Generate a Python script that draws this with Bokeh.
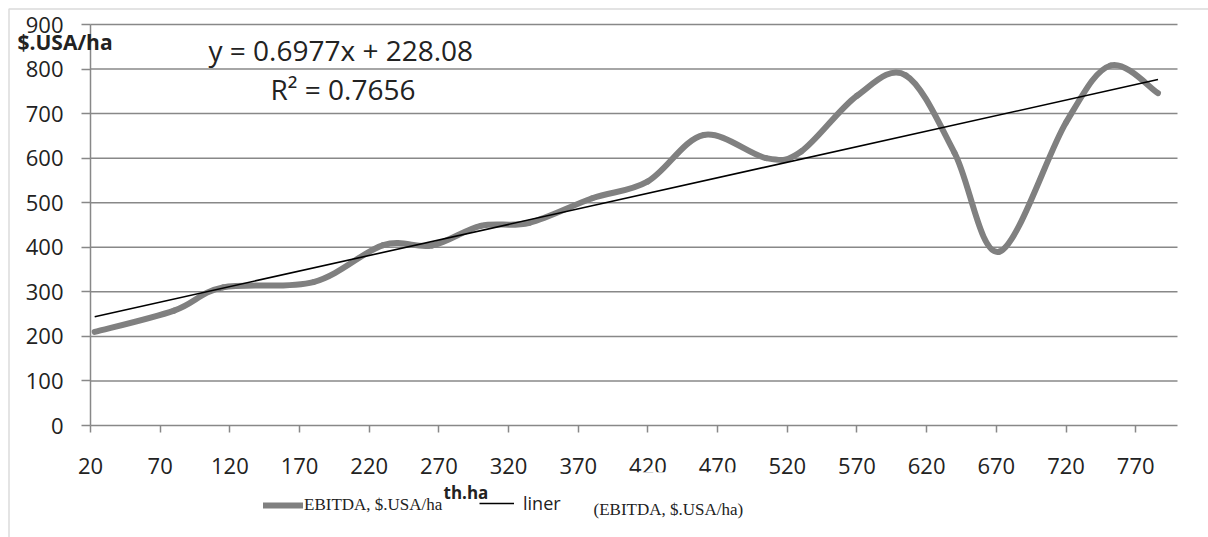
from bokeh.plotting import figure
from bokeh.models import Range1d, FixedTicker, Label, BoxAnnotation, Legend, LegendItem
from bokeh.embed import file_html
from bokeh.resources import INLINE

# Land area, thousand ha, and EBITDA per hectare
land_th_ha = [23, 80, 115, 180, 230, 265, 300, 335, 380, 420, 460, 505, 530,
              570, 605, 640, 672, 720, 752, 786]
ebitda_usd_ha = [210, 258, 310, 322, 405, 404, 448, 455, 510, 548, 652, 600, 615,
                 740, 786, 612, 390, 680, 808, 746]

# Linear trend reported for the series
trend_slope = 0.6977
trend_intercept = 228.08
r_squared = 0.7656

x_ticks = [20, 70, 120, 170, 220, 270, 320, 370, 420, 470, 520, 570, 620, 670, 720, 770]
y_ticks = [0, 100, 200, 300, 400, 500, 600, 700, 800, 900]
x_min, x_max = 20, 800
y_min, y_max = 0, 900

GRID = "#888888"
TEXT = "#222222"
SANS = "Open Sans"
SERIF = "Liberation Serif"

W, H = 1208, 537
# plot area inside the canvas (pixels): left, right, top, bottom
PL, PR, PT, PB = 90, 1177, 24, 425
kx = (PR - PL) / (x_max - x_min)
ky = (PB - PT) / (y_max - y_min)
x_range = Range1d(x_min - PL / kx, x_max + (W - PR) / kx)
y_range = Range1d(y_min - (H - PB) / ky, y_max + PT / ky)

p = figure(width=W, height=H, output_backend="svg", toolbar_location=None,
           x_range=x_range, y_range=y_range, title=None,
           min_border=0, min_border_left=0, min_border_right=0,
           min_border_top=0, min_border_bottom=0)
p.outline_line_color = None
p.background_fill_color = "white"
p.border_fill_color = "white"
p.xgrid.visible = False
p.ygrid.visible = False

# horizontal gridlines across the plot area
grid_y = [t for t in y_ticks if t > 0]
p.segment(x0=[x_min] * len(grid_y), x1=[x_max] * len(grid_y), y0=grid_y, y1=grid_y,
          line_color=GRID, line_width=1.5)

# axes pinned to the plot area's edges
p.xaxis.fixed_location = y_min
p.yaxis.fixed_location = x_min
p.xaxis.bounds = (x_min, x_max)
p.yaxis.bounds = (y_min, y_max)
for ax in (p.xaxis[0], p.yaxis[0]):
    ax.axis_line_color = GRID
    ax.axis_line_width = 1.5
    ax.major_tick_line_color = GRID
    ax.major_tick_line_width = 1.5
    ax.major_tick_in = 0
    ax.minor_tick_in = 0
    ax.minor_tick_out = 0
    ax.major_label_text_font = SANS
    ax.major_label_text_font_size = "22px"
    ax.major_label_text_color = TEXT

p.xaxis.ticker = FixedTicker(ticks=x_ticks)
p.yaxis.ticker = FixedTicker(ticks=y_ticks)
p.xaxis.major_tick_out = 7
p.yaxis.major_tick_out = 9
p.xaxis.major_label_standoff = 25
p.yaxis.major_label_standoff = 18

# smoothed EBITDA curve as cubic Bezier segments through the points
n = len(land_th_ha)
bx0, by0, bx1, by1, bcx0, bcy0, bcx1, bcy1 = [], [], [], [], [], [], [], []
for i in range(n - 1):
    a = max(i - 1, 0)
    d = min(i + 2, n - 1)
    xa, ya = land_th_ha[a], ebitda_usd_ha[a]
    xb, yb = land_th_ha[i], ebitda_usd_ha[i]
    xc, yc = land_th_ha[i + 1], ebitda_usd_ha[i + 1]
    xd, yd = land_th_ha[d], ebitda_usd_ha[d]
    bx0.append(xb); by0.append(yb)
    bx1.append(xc); by1.append(yc)
    bcx0.append(xb + (xc - xa) / 6); bcy0.append(yb + (yc - ya) / 6)
    bcx1.append(xc - (xd - xb) / 6); bcy1.append(yc - (yd - yb) / 6)

curve = p.bezier(x0=bx0, y0=by0, x1=bx1, y1=by1, cx0=bcx0, cy0=bcy0,
                 cx1=bcx1, cy1=bcy1, line_color="#808080", line_width=6,
                 line_cap="round")

# linear trend line from the fitted equation
tx = [land_th_ha[0], land_th_ha[-1]]
ty = [trend_slope * v + trend_intercept for v in tx]
trend = p.line(tx, ty, line_color="black", line_width=1.6)


def sy(canvas_y):
    # screen-unit y (measured upward from the bottom edge)
    return H - canvas_y


def box(left, right, top, bottom, **kw):
    return BoxAnnotation(left=left, right=right, top=sy(top), bottom=sy(bottom),
                         left_units="screen", right_units="screen",
                         top_units="screen", bottom_units="screen", **kw)


# outer chart border (top and left edges)
p.add_layout(box(8.5, W + 20, 8.5, H + 20, fill_alpha=0, line_color=GRID,
                 line_width=1.5))

# white box behind the trend caption, laid over the axis labels
p.add_layout(box(600, 742, 471.7, H, fill_color="white", fill_alpha=1,
                 line_alpha=0, level="overlay"))

p.add_layout(Label(x=208, y=sy(68), x_units="screen", y_units="screen",
                   text=f"y = {trend_slope}x + {trend_intercept}",
                   text_font=SANS, text_font_size="28px", text_color=TEXT))
p.add_layout(Label(x=270, y=sy(107), x_units="screen", y_units="screen",
                   text=f"R\u00b2 = {r_squared}",
                   text_font=SANS, text_font_size="28px", text_color=TEXT))

p.add_layout(Label(x=17, y=sy(55), x_units="screen", y_units="screen",
                   text="$.USA/ha", text_font=SANS, text_font_style="bold",
                   text_font_size="21px", text_color=TEXT))

leg_curve = Legend(items=[LegendItem(label="EBITDA, $.USA/ha", renderers=[curve])],
                   location=(263, sy(515)), orientation="horizontal",
                   label_text_font=SERIF, label_text_font_size="17px",
                   label_text_color=TEXT, glyph_width=40, glyph_height=20,
                   label_height=20, label_standoff=1, padding=0, margin=0,
                   spacing=0, border_line_alpha=0, background_fill_alpha=0,
                   level="overlay")
p.add_layout(leg_curve)

leg_trend = Legend(items=[LegendItem(label="liner", renderers=[trend])],
                   location=(479, sy(515)), orientation="horizontal",
                   label_text_font=SANS, label_text_font_size="18px",
                   label_text_color=TEXT, glyph_width=35, glyph_height=20,
                   label_height=20, label_standoff=9, padding=0, margin=0,
                   spacing=0, border_line_alpha=0, background_fill_alpha=0,
                   level="overlay")
p.add_layout(leg_trend)

p.add_layout(Label(x=593, y=sy(518), x_units="screen", y_units="screen",
                   text="(EBITDA, $.USA/ha)", text_font=SERIF,
                   text_font_size="17px", text_color=TEXT, level="overlay"))

p.add_layout(Label(x=443, y=sy(503), x_units="screen", y_units="screen",
                   text="th.ha", text_font=SANS, text_font_style="bold",
                   text_font_size="17px", text_color=TEXT, level="overlay"))

open("out.html", "w").write(file_html(p, INLINE))
